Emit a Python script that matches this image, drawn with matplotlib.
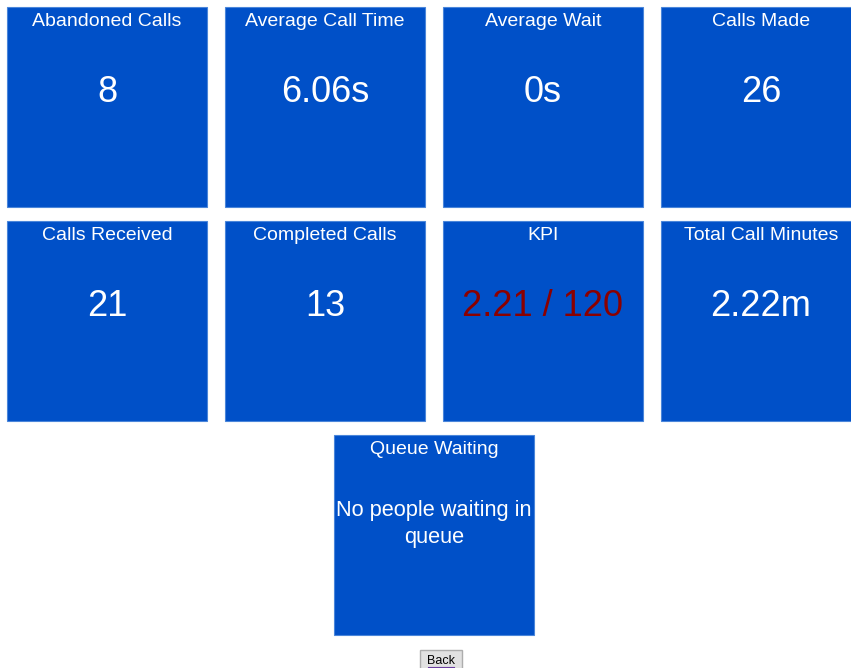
import matplotlib.pyplot as plt
from matplotlib.patches import Rectangle

# tile contents
titles = ['Abandoned Calls', 'Average Call Time', 'Average Wait', 'Calls Made',
          'Calls Received', 'Completed Calls', 'KPI', 'Total Call Minutes']
values = ['8', '6.06s', '0s', '26',
          '21', '13', '2.21 / 120', '2.22m']
value_colors = ['white'] * 6 + ['#8B0000', 'white']
queue_title = 'Queue Waiting'
queue_text = 'No people waiting in\nqueue'

W, H = 851, 668
tile = 200
blue = '#0050C8'
edge = '#4A86DA'

plt.rcParams['font.family'] = ['Liberation Sans', 'DejaVu Sans']
fig = plt.figure(figsize=(W / 100, H / 100), dpi=100)
ax = fig.add_axes([0, 0, 1, 1])
ax.set_xlim(0, W)
ax.set_ylim(H, 0)
ax.axis('off')


def draw_tile(x, y, title, value, vcolor='white', vsize=26, vy=86, ls=1.0):
    ax.add_patch(Rectangle((x, y), tile, tile, facecolor=blue, edgecolor=edge, lw=0.8))
    ax.text(x + tile / 2, y + 15, title, color='white', fontsize=14,
            ha='center', va='center')
    ax.text(x + tile / 2, y + vy, value, color=vcolor, fontsize=vsize,
            ha='center', va='center', linespacing=ls)


for i in range(len(titles)):
    r, c = divmod(i, 4)
    draw_tile(7 + c * 218, 7 + r * 214, titles[i], values[i], value_colors[i])

draw_tile(334, 435, queue_title, queue_text, vsize=15.7, vy=89, ls=1.4)

# back button
ax.add_patch(Rectangle((420, 650), 42, 22, facecolor='#E1E1E1', edgecolor='#ADADAD', lw=1))
ax.text(441, 661, 'Back', color='black', fontsize=9, ha='center', va='center')
ax.plot([428, 454], [667, 667], color='#6B3FA0', lw=0.8)

fig.savefig('out.png', dpi=100)
